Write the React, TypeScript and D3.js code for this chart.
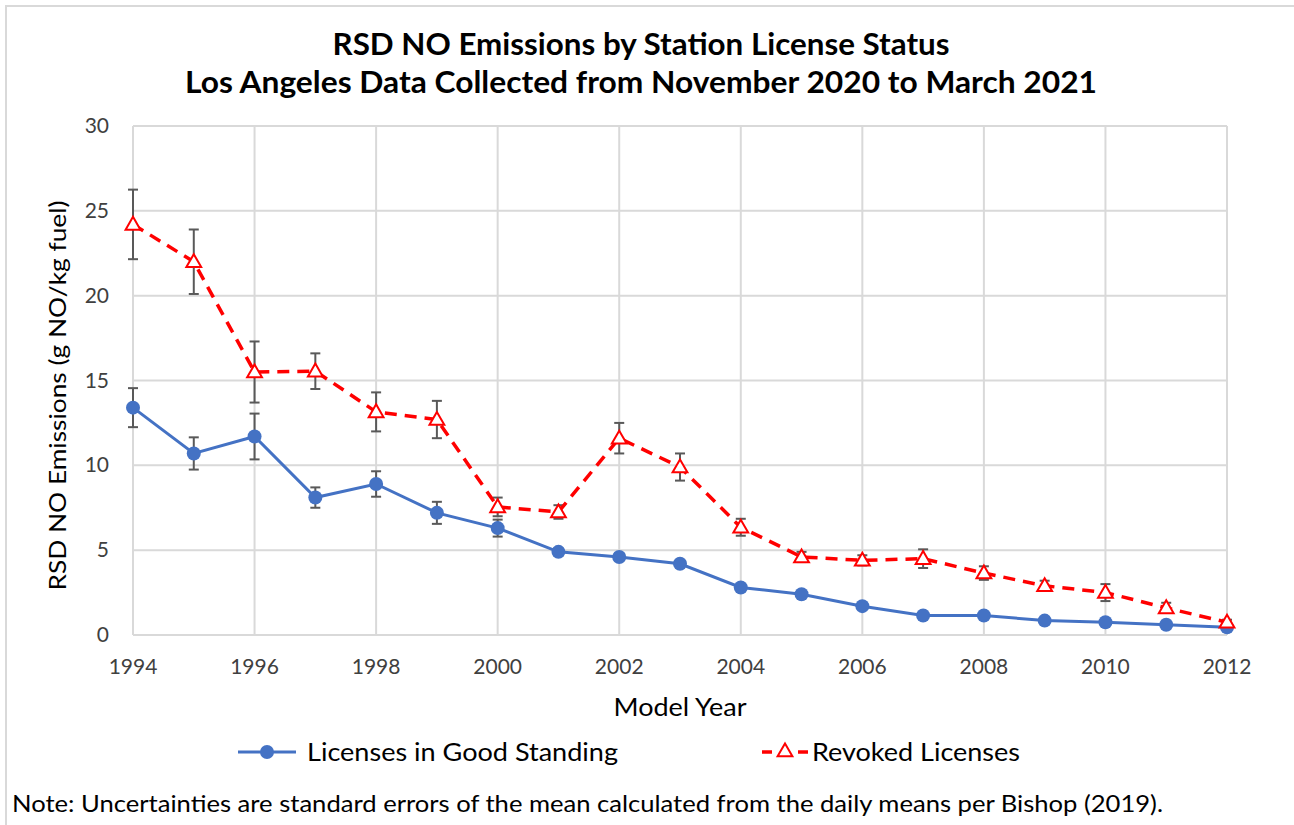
import React from "react";
import * as d3 from "d3";

const years = [1994,1995,1996,1997,1998,1999,2000,2001,2002,2003,2004,2005,2006,2007,2008,2009,2010,2011,2012];
const goodValues = [13.4,10.7,11.7,8.1,8.9,7.2,6.3,4.9,4.6,4.2,2.8,2.4,1.7,1.15,1.15,0.85,0.75,0.6,0.45];
const goodErr = [1.15,0.95,1.35,0.6,0.75,0.65,0.5,0.2,0.2,0.2,0.15,0.1,0.1,0.08,0.08,0.05,0.05,0.05,0.03];
const revokedValues = [24.2,22.0,15.5,15.55,13.15,12.7,7.55,7.25,11.6,9.9,6.35,4.6,4.4,4.5,3.65,2.9,2.5,1.6,0.75];
const revokedErr = [2.05,1.9,1.8,1.05,1.15,1.1,0.55,0.4,0.9,0.8,0.5,0.3,0.3,0.55,0.4,0.3,0.5,0.3,0.15];
const xTicks = [1994,1996,1998,2000,2002,2004,2006,2008,2010,2012];
const yTicks = [0,5,10,15,20,25,30];

const titleLines = ["RSD NO Emissions by Station License Status", "Los Angeles Data Collected from November 2020 to March 2021"];
const xTitle = "Model Year";
const yTitle = "RSD NO Emissions (g NO/kg fuel)";
const legendGood = "Licenses in Good Standing";
const legendRevoked = "Revoked Licenses";
const note = "Note: Uncertainties are standard errors of the mean calculated from the daily means per Bishop (2019).";

const FONT = "Lato, 'Open Sans', sans-serif";
const BLUE = "#4472C4";
const RED = "#FF0000";
const GRID = "#d9d9d9";
const ERR = "#595959";

export default function App() {
  const left = 133, right = 1227, top = 126, bottom = 635;
  const x = d3.scaleLinear().domain([1994, 2012]).range([left, right]);
  const y = d3.scaleLinear().domain([0, 30]).range([bottom, top]);

  const line = d3.line<number>().x((_, i) => x(years[i])).y((v) => y(v));
  const tri = d3.symbol().type(d3.symbolTriangle).size(95)();

  const errBars = (vals: number[], errs: number[], key: string) =>
    vals.map((v, i) => {
      const cx = x(years[i]);
      const y1 = y(v + errs[i]);
      const y2 = y(v - errs[i]);
      return (
        <g key={key + i} stroke={ERR} strokeWidth={2}>
          <line x1={cx} x2={cx} y1={y1} y2={y2} />
          <line x1={cx - 5} x2={cx + 5} y1={y1} y2={y1} />
          <line x1={cx - 5} x2={cx + 5} y1={y2} y2={y2} />
        </g>
      );
    });

  const titleWidths = [617, 912];
  const titleCx = [641, 641];

  return (
    <svg width={1294} height={825} style={{ position: "absolute", left: 0, top: 0, background: "#fff" }} fontFamily={FONT}>
      <rect x={6} y={6} width={1300} height={830} fill="#fff" stroke={GRID} strokeWidth={2} />
      {titleLines.map((t, i) => (
        <text key={t} x={titleCx[i]} y={55 + i * 38} textAnchor="middle" fontWeight="bold" fontSize={30} fill="#000"
          textLength={titleWidths[i]} lengthAdjust="spacingAndGlyphs">{t}</text>
      ))}
      {yTicks.map((t) => (
        <g key={"y" + t}>
          <line x1={left} x2={right} y1={y(t)} y2={y(t)} stroke={GRID} strokeWidth={2} />
          <text x={109} y={y(t) + 7} textAnchor="end" fontSize={21} fill="#404040">{t}</text>
        </g>
      ))}
      {xTicks.map((t) => (
        <g key={"x" + t}>
          <line x1={x(t)} x2={x(t)} y1={top} y2={bottom} stroke={GRID} strokeWidth={2} />
          <text x={x(t)} y={674} textAnchor="middle" fontSize={21} fill="#404040">{t}</text>
        </g>
      ))}
      <text x={680} y={716} textAnchor="middle" fontSize={25} fill="#000" textLength={133} lengthAdjust="spacingAndGlyphs">{xTitle}</text>
      <text transform={`translate(66,${(top + bottom) / 2 + 15}) rotate(-90)`} textAnchor="middle" fontSize={24} fill="#000"
        textLength={390} lengthAdjust="spacingAndGlyphs">{yTitle}</text>

      {errBars(revokedValues, revokedErr, "re")}
      {errBars(goodValues, goodErr, "ge")}

      <path d={line(goodValues) || ""} fill="none" stroke={BLUE} strokeWidth={3} />
      {goodValues.map((v, i) => (
        <circle key={"gc" + i} cx={x(years[i])} cy={y(v)} r={7} fill={BLUE} />
      ))}
      <path d={line(revokedValues) || ""} fill="none" stroke={RED} strokeWidth={3.5} strokeDasharray="12,8" />
      {revokedValues.map((v, i) => (
        <path key={"rt" + i} d={tri || ""} transform={`translate(${x(years[i])},${y(v) + 1})`} fill="#fff" stroke={RED} strokeWidth={2} />
      ))}

      <g>
        <line x1={238} x2={296} y1={752} y2={752} stroke={BLUE} strokeWidth={3} />
        <circle cx={267} cy={752} r={7} fill={BLUE} />
        <text x={307} y={761} fontSize={25} fill="#000" textLength={311} lengthAdjust="spacingAndGlyphs">{legendGood}</text>
        <line x1={762} x2={808} y1={752} y2={752} stroke={RED} strokeWidth={3.5} strokeDasharray="10,8" />
        <path d={tri || ""} transform={`translate(785,752)`} fill="#fff" stroke={RED} strokeWidth={2} />
        <text x={812} y={761} fontSize={25} fill="#000" textLength={208} lengthAdjust="spacingAndGlyphs">{legendRevoked}</text>
      </g>
      <text x={12} y={812} fontSize={24} fill="#000" textLength={1151} lengthAdjust="spacingAndGlyphs">{note}</text>
    </svg>
  );
}
